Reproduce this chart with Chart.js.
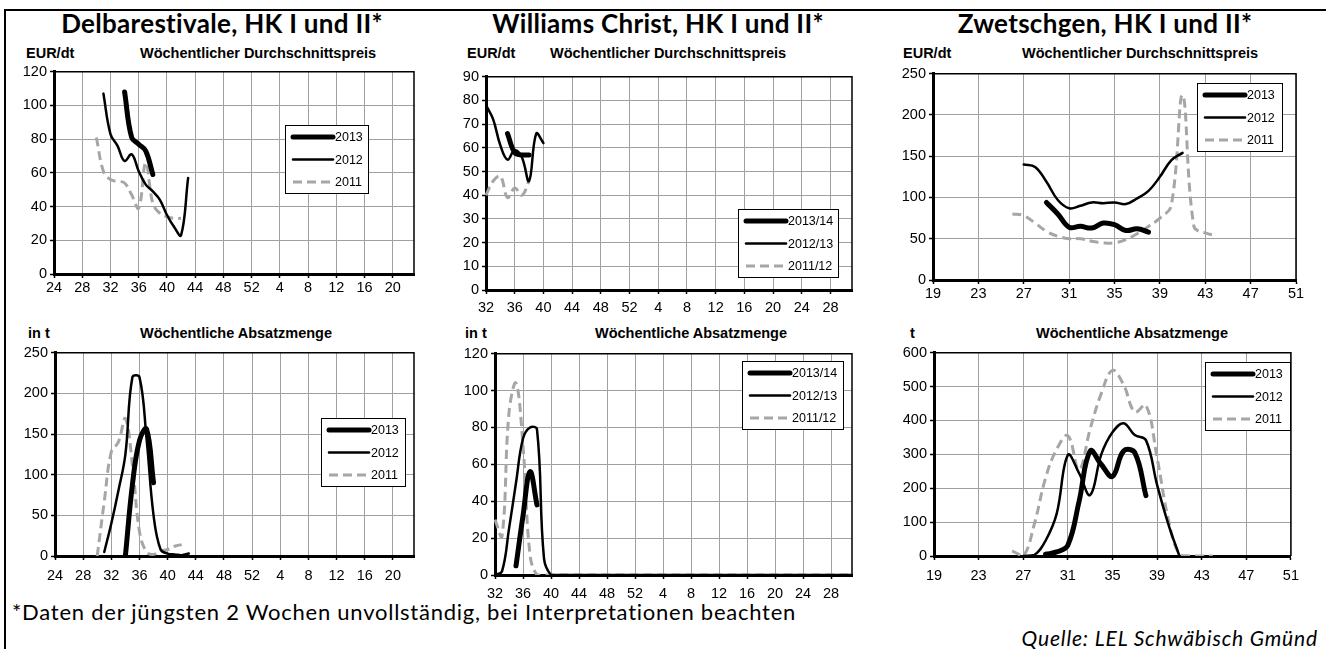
<!DOCTYPE html>
<html>
<head>
<meta charset="utf-8">
<script src="https://cdn.jsdelivr.net/npm/chart.js@4.4.0/dist/chart.umd.min.js"></script>
<style>
body{margin:0;background:#fff;width:1326px;height:649px;overflow:hidden;position:relative;font-family:"Liberation Sans",Arial,sans-serif}
#frame{position:absolute;left:4px;top:9px;width:1400px;height:700px;border-left:2px solid #000;border-top:2px solid #000}
.t{position:absolute;white-space:nowrap;color:#000}
.title{font-family:Lato,"Open Sans",sans-serif;font-weight:700;font-size:26px;letter-spacing:0.3px;transform:translate(-50%,-50%)}
.sub{font-weight:700;font-size:14.5px;transform:translate(-50%,-50%)}
.unit{font-weight:700;font-size:14.5px;transform:translate(0,-50%)}
.foot{font-family:Lato,"Open Sans",sans-serif;font-size:22px;letter-spacing:0.75px;transform:translate(0,-50%)}
.src{font-family:Lato,"Open Sans",sans-serif;font-style:italic;font-size:21px;letter-spacing:0.85px;transform:translate(-100%,-50%)}
canvas{position:absolute}
</style>
</head>
<body>
<div id="frame"></div>

<div class="t title" style="left:222px;top:23px">Delbarestivale, HK I und II*</div>
<div class="t title" style="left:658px;top:23px">Williams Christ, HK I und II*</div>
<div class="t title" style="left:1105px;top:23px">Zwetschgen, HK I und II*</div>

<div class="t unit" style="left:26px;top:53px">EUR/dt</div>
<div class="t sub" style="left:258px;top:53px">Wöchentlicher Durchschnittspreis</div>
<div class="t unit" style="left:467px;top:53px">EUR/dt</div>
<div class="t sub" style="left:668px;top:53px">Wöchentlicher Durchschnittspreis</div>
<div class="t unit" style="left:903px;top:53px">EUR/dt</div>
<div class="t sub" style="left:1140px;top:53px">Wöchentlicher Durchschnittspreis</div>

<div class="t unit" style="left:28px;top:333px">in t</div>
<div class="t sub" style="left:236px;top:333px">Wöchentliche Absatzmenge</div>
<div class="t unit" style="left:465px;top:333px">in t</div>
<div class="t sub" style="left:691px;top:333px">Wöchentliche Absatzmenge</div>
<div class="t unit" style="left:910px;top:333px">t</div>
<div class="t sub" style="left:1132px;top:333px">Wöchentliche Absatzmenge</div>

<div class="t foot" style="left:12px;top:611px">*Daten der jüngsten 2 Wochen unvollständig, bei Interpretationen beachten</div>
<div class="t src" style="left:1318px;top:637px">Quelle: LEL Schwäbisch Gmünd</div>

<canvas id="c1"></canvas>
<canvas id="c2"></canvas>
<canvas id="c3"></canvas>
<canvas id="c4"></canvas>
<canvas id="c5"></canvas>
<canvas id="c6"></canvas>

<script>
/* Kalenderwochen (Kategorien) */
var weeksDelb = ['24','25','26','27','28','29','30','31','32','33','34','35','36','37','38','39','40','41','42','43','44','45','46','47','48','49','50','51','52',
  '1','2','3','4','5','6','7','8','9','10','11','12','13','14','15','16','17','18','19','20','21','22','23'];
var weeksWill = ['32','33','34','35','36','37','38','39','40','41','42','43','44','45','46','47','48','49','50','51','52',
  '1','2','3','4','5','6','7','8','9','10','11','12','13','14','15','16','17','18','19','20','21','22','23','24','25','26','27','28','29','30','31'];
var weeksPlum = ['19','20','21','22','23','24','25','26','27','28','29','30','31','32','33','34','35','36','37','38','39','40','41','42','43','44','45','46','47','48','49','50','51'];

/* Delbarestivale */
var delbPrice2013 = [null,null,null,null,null,null,null,null,null,null,108,81,77,73,59];
var delbPrice2012 = [null,null,null,null,null,null,null,107,83,76,67,71,61,53,49,44,35,28,23,57];
var delbPrice2011 = [null,null,null,null,null,null,81,61,56,55,54,47,39,66,42,36,34,33,33];
var delbQty2013 = [null,null,null,null,null,null,null,null,null,null,0,88,142,156,90];
var delbQty2012 = [null,null,null,null,null,null,null,5,40,80,125,220,220,145,50,8,3,2,1,3];
var delbQty2011 = [null,null,null,null,null,null,0,67,128,140,169,112,30,5,2,6,8,12,14];

/* Williams Christ */
var willPrice1314 = [null,null,null,66,58,57,57];
var willPrice1213 = [78,72,61,55,59,56,46,66,62];
var willPrice1112 = [40,46,48,39,43,40,46];
var willQty1314 = [null,null,null,5,32,56,38];
var willQty1213 = [0,2,25,50,74,80,79,9,0,
  0,0,0,0,0,0,0,0,0,0, 0,0,0,0,0,0,0,0,0,0, 0,0,0,0,0,0,0,0,0,0, 0,0,0,0,0,0,0,0,0,0, 0,0,0];
var willQty1112 = [30,21,88,104,70,11,0,
  0,0,0,0,0,0,0,0,0,0, 0,0,0,0,0,0,0,0,0,0, 0,0,0,0,0,0,0,0,0,0, 0,0,0,0,0,0,0,0,0,0, 0,0,0,0,0];

/* Zwetschgen */
var plumPrice2013 = [null,null,null,null,null,null,null,null,null,null,94,80,64,65,63,69,67,60,62,58];
var plumPrice2012 = [null,null,null,null,null,null,null,null,140,137,119,97,87,90,94,93,94,92,99,108,125,145,154];
var plumPrice2011 = [null,null,null,null,null,null,null,80,78,69,59,53,50,50,47,45,45,49,56,65,75,90,224,65,57,54];
var plumQty2013 = [null,null,null,null,null,null,null,null,null,null,5,12,32,160,310,270,235,310,305,178];
var plumQty2012 = [null,null,null,null,null,null,null,null,0,3,45,125,298,245,180,300,365,392,357,342,210,95,0];
var plumQty2011 = [null,null,null,null,null,null,null,15,0,95,230,315,355,255,375,480,548,505,425,445,290,110,5,0,0,0];

var tickFont = {family: '"Liberation Sans", Arial, sans-serif', size: 14.5};
var styles = {
  thick: {borderColor: '#000', borderWidth: 5, borderDash: []},
  thin:  {borderColor: '#000', borderWidth: 2.5, borderDash: []},
  dash:  {borderColor: '#a6a6a6', borderWidth: 3, borderDash: [9, 5]}
};

function makeChart(id, plot, labels, series, yMax, yStep, xPad, leg) {
  var cv = document.getElementById(id);
  var w = plot.r - plot.l + 60, h = plot.b - plot.t + 40;
  var ox = plot.l - 50, oy = plot.t - 10;
  cv.style.left = ox + 'px';
  cv.style.top = oy + 'px';
  cv.width = w; cv.height = h;
  cv.style.width = w + 'px'; cv.style.height = h + 'px';

  var datasets = series.map(function (s) {
    var st = styles[s[2]];
    return {
      label: s[0], data: s[1],
      borderColor: st.borderColor, borderWidth: st.borderWidth, borderDash: st.borderDash,
      borderCapStyle: s[2] == 'dash' ? 'butt' : 'round',
      pointRadius: 0, tension: 0.4, fill: false, spanGaps: false
    };
  });

  // Rahmen oben/rechts
  var framePlugin = {
    id: 'frame' + id,
    beforeDatasetsDraw: function (chart) {
      var a = chart.chartArea, c = chart.ctx;
      c.save();
      c.strokeStyle = '#000'; c.lineWidth = 1.5;
      c.beginPath();
      c.moveTo(a.left, a.top); c.lineTo(a.right, a.top); c.lineTo(a.right, a.bottom);
      c.stroke();
      c.restore();
    }
  };

  // Legende im Kasten
  var legendPlugin = {
    id: 'leg' + id,
    afterDraw: function (chart) {
      var c = chart.ctx, x = leg.x - ox, y = leg.y - oy;
      c.save();
      c.fillStyle = '#fff'; c.fillRect(x, y, leg.w, 68);
      c.strokeStyle = '#000'; c.lineWidth = 1; c.strokeRect(x + 0.5, y + 0.5, leg.w, 68);
      chart.data.datasets.forEach(function (ds, i) {
        var yy = y + 12 + i * 22.5;
        c.beginPath();
        c.strokeStyle = ds.borderColor; c.lineWidth = ds.borderWidth;
        c.lineCap = ds.borderCapStyle;
        c.setLineDash(ds.borderDash);
        c.moveTo(x + 8, yy); c.lineTo(x + 48, yy); c.stroke();
        c.setLineDash([]);
        c.fillStyle = '#000'; c.font = '12.5px "Liberation Sans", Arial, sans-serif';
        c.textBaseline = 'middle';
        c.fillText(ds.label, x + 50, yy + 1);
      });
      c.restore();
    }
  };

  return new Chart(cv, {
    type: 'line',
    data: {labels: labels, datasets: datasets},
    plugins: [framePlugin, legendPlugin],
    options: {
      responsive: false, animation: false,
      layout: {padding: {top: 10, right: 10, left: 0, bottom: 0}},
      plugins: {legend: {display: false}, tooltip: {enabled: false}},
      scales: {
        x: {
          type: 'category', offset: false,
          ticks: {
            autoSkip: false, maxRotation: 0, minRotation: 0, color: '#000', font: tickFont, padding: xPad,
            callback: function (v, i) { return i % 4 === 0 ? this.getLabelForValue(v) : ''; }
          },
          grid: {
            color: function (c) { return c.index % 4 === 0 ? '#a0a0a0' : 'rgba(0,0,0,0)'; },
            tickColor: function (c) { return c.index % 4 === 0 ? '#000' : 'rgba(0,0,0,0)'; },
            tickLength: 4, tickWidth: 1.5
          },
          border: {color: '#000', width: 3},
          afterFit: function (s) { s.height = 30; }
        },
        y: {
          min: 0, max: yMax,
          ticks: {stepSize: yStep, color: '#000', font: tickFont, padding: 3},
          grid: {color: '#a0a0a0', tickColor: '#000', tickLength: 4, tickWidth: 1.5},
          border: {color: '#000', width: 3},
          afterFit: function (s) { s.width = 50; }
        }
      }
    }
  });
}

makeChart('c1', {l: 54, t: 70, r: 414, b: 274}, weeksDelb,
  [['2013', delbPrice2013, 'thick'], ['2012', delbPrice2012, 'thin'], ['2011', delbPrice2011, 'dash']],
  120, 20, 1, {x: 285, y: 125, w: 83});
makeChart('c2', {l: 486, t: 75, r: 852, b: 290}, weeksWill,
  [['2013/14', willPrice1314, 'thick'], ['2012/13', willPrice1213, 'thin'], ['2011/12', willPrice1112, 'dash']],
  90, 10, 5, {x: 738, y: 209, w: 100});
makeChart('c3', {l: 933, t: 72, r: 1296, b: 280}, weeksPlum,
  [['2013', plumPrice2013, 'thick'], ['2012', plumPrice2012, 'thin'], ['2011', plumPrice2011, 'dash']],
  250, 50, 1, {x: 1197, y: 83, w: 85});
makeChart('c4', {l: 55, t: 351, r: 414, b: 556}, weeksDelb,
  [['2013', delbQty2013, 'thick'], ['2012', delbQty2012, 'thin'], ['2011', delbQty2011, 'dash']],
  250, 50, 7, {x: 321, y: 418, w: 84});
makeChart('c5', {l: 495, t: 352, r: 852, b: 575}, weeksWill,
  [['2013/14', willQty1314, 'thick'], ['2012/13', willQty1213, 'thin'], ['2011/12', willQty1112, 'dash']],
  120, 20, 6, {x: 742, y: 361, w: 101});
makeChart('c6', {l: 934, t: 351, r: 1296, b: 556}, weeksPlum,
  [['2013', plumQty2013, 'thick'], ['2012', plumQty2012, 'thin'], ['2011', plumQty2011, 'dash']],
  600, 100, 7, {x: 1205, y: 362, w: 85});
</script>
</body>
</html>
